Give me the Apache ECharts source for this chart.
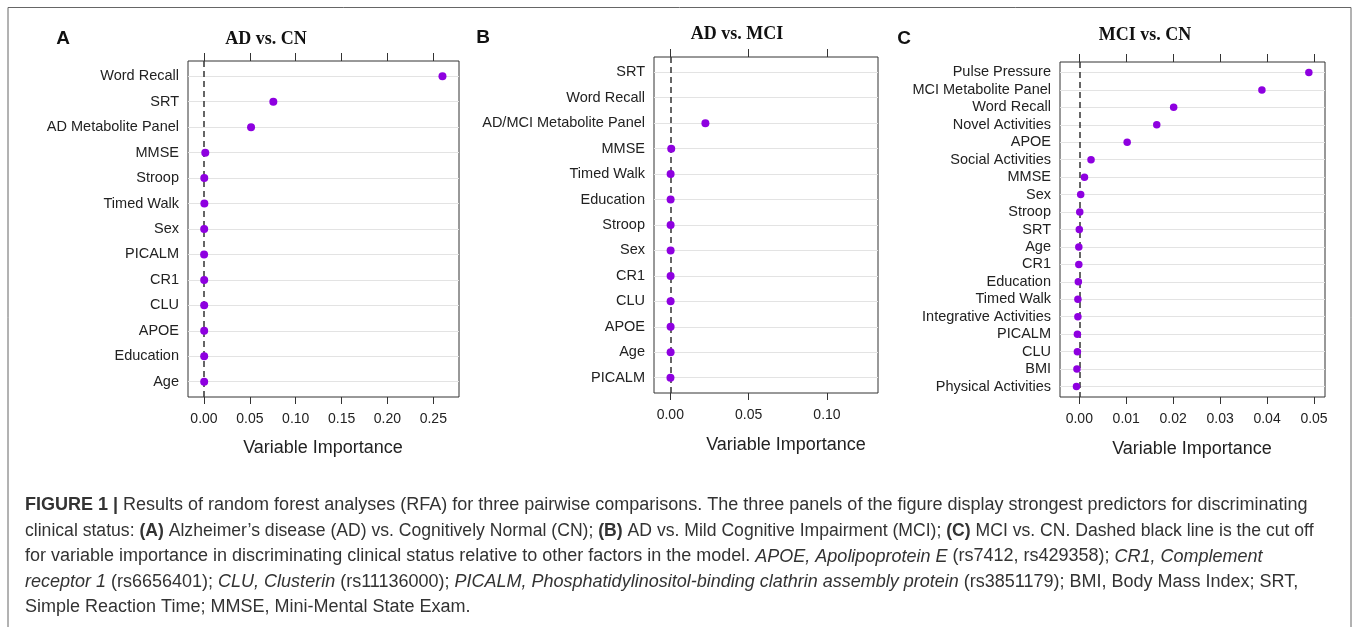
<!DOCTYPE html>
<html>
<head>
<meta charset="utf-8">
<script src="https://cdn.jsdelivr.net/npm/echarts@6/dist/echarts.min.js"></script>
<style>
html,body{margin:0;padding:0;background:#fff;}
#chart{width:1354px;height:627px;}
</style>
</head>
<body>
<div id="chart"></div>
<script>
// ---- Data ----
const catsA = ['Word Recall','SRT','AD Metabolite Panel','MMSE','Stroop','Timed Walk','Sex','PICALM','CR1','CLU','APOE','Education','Age'];
const valsA = [0.260, 0.0756, 0.0513, 0.0014, 0.0003, 0.0004, 0.0002, 0.0001, 0.0002, 0.0002, 0.0002, 0.0002, 0.0002];

const catsB = ['SRT','Word Recall','AD/MCI Metabolite Panel','MMSE','Timed Walk','Education','Stroop','Sex','CR1','CLU','APOE','Age','PICALM'];
const valsB = [null, null, 0.0224, 0.0006, 0.0002, 0.0002, 0.0002, 0.0002, 0.0002, 0.0002, 0.0002, 0.0002, 0.0001];

const catsC = ['Pulse Pressure','MCI Metabolite Panel','Word Recall','Novel Activities','APOE','Social Activities','MMSE','Sex','Stroop','SRT','Age','CR1','Education','Timed Walk','Integrative Activities','PICALM','CLU','BMI','Physical Activities'];
const valsC = [0.0489, 0.0389, 0.0201, 0.0165, 0.0102, 0.0025, 0.0011, 0.0003, 0.0001, 0.0000, -0.0001, -0.0001, -0.0002, -0.0003, -0.0003, -0.0004, -0.0004, -0.0005, -0.0006];

const ticksA = [0, 0.05, 0.10, 0.15, 0.20, 0.25];
const ticksB = [0, 0.05, 0.10];
const ticksC = [0, 0.01, 0.02, 0.03, 0.04, 0.05];

const cutA = 0, cutB = 0, cutC = 0.0006;

const titles = ['AD vs. CN', 'AD vs. MCI', 'MCI vs. CN'];
const letters = ['A', 'B', 'C'];
const axisName = 'Variable Importance';

const captionLines = [
  '{b|FIGURE 1 |} Results of random forest analyses (RFA) for three pairwise comparisons. The three panels of the figure display strongest predictors for discriminating',
  'clinical status: {b|(A)} Alzheimer\u2019s disease (AD) vs. Cognitively Normal (CN); {b|(B)} AD vs. Mild Cognitive Impairment (MCI); {b|(C)} MCI vs. CN. Dashed black line is the cut off',
  'for variable importance in discriminating clinical status relative to other factors in the model. {i|APOE, Apolipoprotein E} (rs7412, rs429358); {i|CR1, Complement}',
  '{i|receptor 1} (rs6656401); {i|CLU, Clusterin} (rs11136000); {i|PICALM, Phosphatidylinositol-binding clathrin assembly protein} (rs3851179); BMI, Body Mass Index; SRT,',
  'Simple Reaction Time; MMSE, Mini-Mental State Exam.'
];

// ---- Layout ----
const SANS = '"Liberation Sans", Arial, Helvetica, sans-serif';
const SERIF = '"Liberation Serif", "Times New Roman", serif';
const DOT = '#8e00e0';

const panels = [
  {cats: catsA, vals: valsA, ticks: ticksA, cut: cutA, grid: {left: 188, top: 61, width: 271, height: 336}, min: -0.01744, max: 0.27802, dot: 8},
  {cats: catsB, vals: valsB, ticks: ticksB, cut: cutB, grid: {left: 654, top: 57, width: 224, height: 336}, min: -0.0104, max: 0.13255, dot: 8},
  {cats: catsC, vals: valsC, ticks: ticksC, cut: cutC, grid: {left: 1060, top: 62, width: 265, height: 335}, min: -0.00411, max: 0.05234, dot: 7.5}
];

const grids = [], xAxes = [], yAxes = [], series = [];
panels.forEach((p, k) => {
  grids.push(Object.assign({show: true, borderColor: '#333', borderWidth: 1, backgroundColor: 'transparent', containLabel: false}, p.grid));
  const n = p.cats.length;
  const idx = p.cats.map((c, i) => i);
  xAxes.push({
    type: 'value', gridIndex: k, position: 'bottom', min: p.min, max: p.max,
    axisLine: {show: false, onZero: false},
    axisTick: {show: true, customValues: p.ticks, length: 7, lineStyle: {color: '#333', width: 1}},
    axisLabel: {customValues: p.ticks, formatter: v => v.toFixed(2), fontFamily: SANS, fontSize: 14, color: '#222', margin: 15},
    splitLine: {show: false}
  });
  xAxes.push({
    type: 'value', gridIndex: k, position: 'top', min: p.min, max: p.max,
    axisLine: {show: false, onZero: false},
    axisTick: {show: true, customValues: p.ticks, length: 8, lineStyle: {color: '#333', width: 1}},
    axisLabel: {show: false},
    splitLine: {show: false}
  });
  yAxes.push({
    type: 'value', gridIndex: k, inverse: true, min: -0.6, max: n - 1 + 0.6, position: 'left',
    axisLine: {show: false, onZero: false}, axisTick: {show: false}, splitLine: {show: false},
    axisLabel: {customValues: idx, formatter: v => p.cats[Math.round(v)], fontFamily: SANS, fontSize: 14.5, color: '#222', margin: 9}
  });
  // row gridlines
  series.push({
    type: 'scatter', xAxisIndex: 2 * k, yAxisIndex: k, data: [], z: 1, silent: true,
    markLine: {silent: true, symbol: 'none', animation: false, z: 1, label: {show: false},
      lineStyle: {color: '#e3e3e3', width: 1, type: 'solid'},
      data: idx.map(i => ({yAxis: i}))}
  });
  // points
  series.push({
    type: 'scatter', xAxisIndex: 2 * k, yAxisIndex: k, z: 3,
    symbol: 'circle', symbolSize: p.dot,
    itemStyle: {color: DOT, opacity: 1},
    data: p.vals.map((v, i) => v === null ? null : [v, i]).filter(d => d !== null)
  });
  // cutoff dashed line
  series.push({
    type: 'scatter', xAxisIndex: 2 * k, yAxisIndex: k, data: [], z: 2, silent: true,
    markLine: {silent: true, symbol: 'none', animation: false, z: 2, label: {show: false},
      lineStyle: {color: '#333', width: 1.5, type: [6, 4]},
      data: [{xAxis: p.cut}]}
  });
});

const graphics = [
  {type: 'polyline', shape: {points: [[8, 627], [8, 7.5], [1351, 7.5], [1351, 627]]}, style: {stroke: '#666', lineWidth: 1, fill: null}, silent: true}
];
const letterPos = [[63, 39], [483, 38], [904, 39]];
const titlePos = [[266, 39], [737, 34], [1145, 35]];
const namePos = [[323, 448], [786, 445], [1192, 449]];
for (let k = 0; k < 3; k++) {
  graphics.push({type: 'text', x: letterPos[k][0], y: letterPos[k][1], style: {text: letters[k], font: 'bold 19px ' + SANS, fill: '#111', align: 'center', verticalAlign: 'middle'}});
  graphics.push({type: 'text', x: titlePos[k][0], y: titlePos[k][1], style: {text: titles[k], font: 'bold 18px ' + SERIF, fill: '#111', align: 'center', verticalAlign: 'middle'}});
  graphics.push({type: 'text', x: namePos[k][0], y: namePos[k][1], style: {text: axisName, font: '18px ' + SANS, fill: '#222', align: 'center', verticalAlign: 'middle'}});
}
const capY0 = 505.5, capStep = 25.5;
const capSizes = [18, 17.6, 18, 18, 18];
captionLines.forEach((line, i) => {
  const fs = capSizes[i];
  graphics.push({type: 'text', x: 25, y: capY0 + i * capStep, style: {
    text: line, fontFamily: SANS, fontSize: fs, fill: '#333', align: 'left', verticalAlign: 'middle',
    rich: {
      b: {fontFamily: SANS, fontSize: fs, fontWeight: 'bold', fill: '#333'},
      i: {fontFamily: SANS, fontSize: fs, fontStyle: 'italic', fill: '#333'}
    }
  }});
});

const chart = echarts.init(document.getElementById('chart'), null, {renderer: 'canvas'});
chart.setOption({
  animation: false,
  backgroundColor: '#fff',
  grid: grids, xAxis: xAxes, yAxis: yAxes, series: series,
  graphic: graphics
});
</script>
</body>
</html>
